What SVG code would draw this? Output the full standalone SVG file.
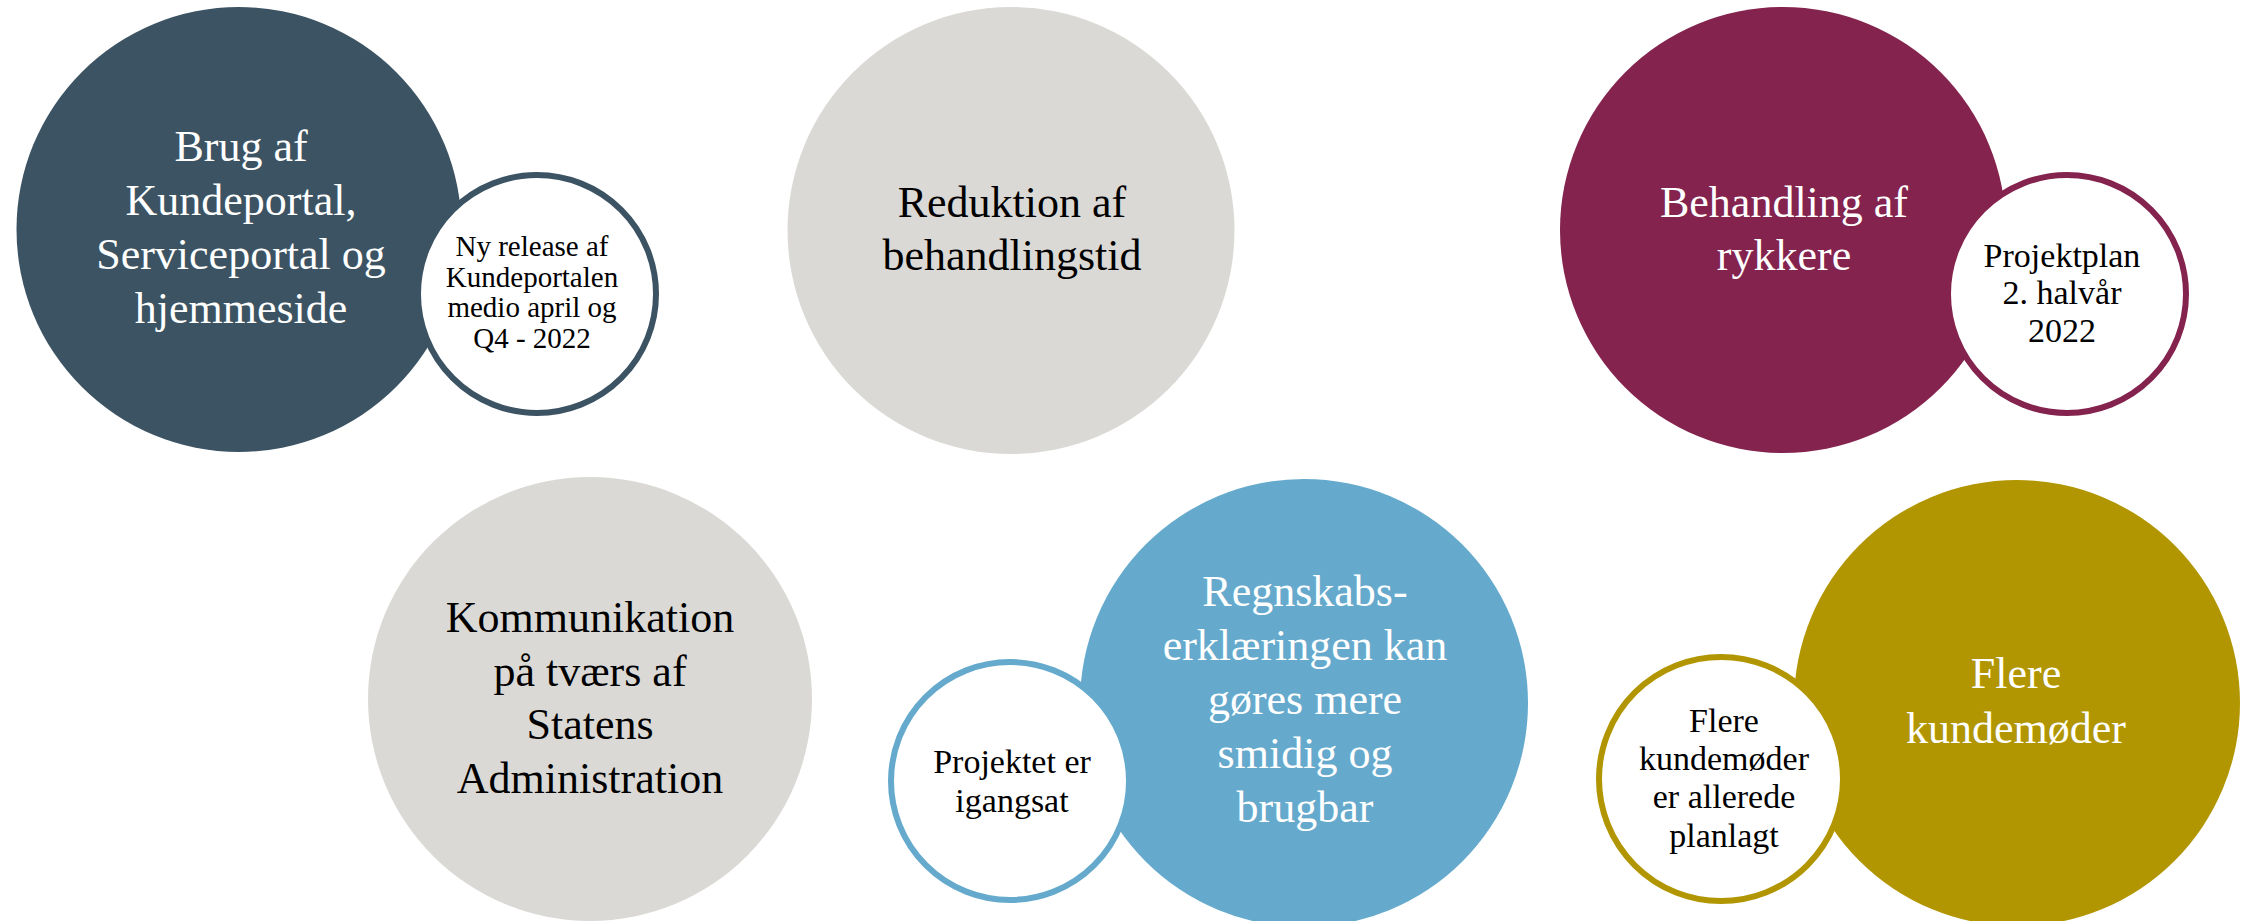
<svg xmlns="http://www.w3.org/2000/svg" width="2244" height="921" viewBox="0 0 2244 921">
<style>
text{font-family:"Liberation Serif","DejaVu Serif",serif;text-anchor:middle}
.big{font-size:44px;fill:#ffffff}
.bigd{font-size:44px;fill:#000000}
.sm{font-size:34px;fill:#000000}
.smd{font-size:29px;fill:#000000}
.ring{fill:#ffffff;stroke-width:6}
</style>
<rect width="2244" height="921" fill="#ffffff"/>
<g id="node-brug">
<circle cx="239" cy="229.5" r="222.5" fill="#3c5363"/>
<text class="big" x="241" y="161">Brug af</text>
<text class="big" x="241" y="215">Kundeportal,</text>
<text class="big" x="241" y="269">Serviceportal og</text>
<text class="big" x="241" y="323">hjemmeside</text>
</g>
<g id="node-release">
<circle class="ring" cx="537" cy="294" r="119" stroke="#3c5363"/>
<text class="smd" x="532" y="256">Ny release af</text>
<text class="smd" x="532" y="287">Kundeportalen</text>
<text class="smd" x="532" y="317">medio april og</text>
<text class="smd" x="532" y="348">Q4 - 2022</text>
</g>
<g id="node-reduktion">
<circle cx="1011" cy="230.5" r="223.5" fill="#dad9d6"/>
<text class="bigd" x="1012" y="217">Reduktion af</text>
<text class="bigd" x="1012" y="270">behandlingstid</text>
</g>
<g id="node-behandling">
<circle cx="1783" cy="230" r="223" fill="#83234e"/>
<text class="big" x="1784" y="217">Behandling af</text>
<text class="big" x="1784" y="270">rykkere</text>
</g>
<g id="node-projektplan">
<circle class="ring" cx="2067" cy="294" r="119" stroke="#83234e"/>
<text class="sm" x="2062" y="267">Projektplan</text>
<text class="sm" x="2062" y="304">2. halvår</text>
<text class="sm" x="2062" y="342">2022</text>
</g>
<g id="node-kommunikation">
<circle cx="590" cy="699" r="222" fill="#dad9d6"/>
<text class="bigd" x="590" y="632">Kommunikation</text>
<text class="bigd" x="590" y="686">på tværs af</text>
<text class="bigd" x="590" y="739">Statens</text>
<text class="bigd" x="590" y="793">Administration</text>
</g>
<g id="node-regnskab">
<circle cx="1304" cy="703" r="224" fill="#65aacd"/>
<text class="big" x="1305" y="606">Regnskabs-</text>
<text class="big" x="1305" y="660">erklæringen kan</text>
<text class="big" x="1305" y="714">gøres mere</text>
<text class="big" x="1305" y="768">smidig og</text>
<text class="big" x="1305" y="822">brugbar</text>
</g>
<g id="node-projektet">
<circle class="ring" cx="1010" cy="781" r="119" stroke="#65aacd"/>
<text class="sm" x="1012" y="773">Projektet er</text>
<text class="sm" x="1012" y="812">igangsat</text>
</g>
<g id="node-flere">
<circle cx="2017" cy="703" r="223" fill="#b19601"/>
<text class="big" x="2016" y="688">Flere</text>
<text class="big" x="2016" y="743">kundemøder</text>
</g>
<g id="node-flere-small">
<circle class="ring" cx="1721" cy="779" r="122" stroke="#b19601"/>
<text class="sm" x="1724" y="732">Flere</text>
<text class="sm" x="1724" y="770">kundemøder</text>
<text class="sm" x="1724" y="808">er allerede</text>
<text class="sm" x="1724" y="847">planlagt</text>
</g>
<g id="connectors"></g>
</svg>
